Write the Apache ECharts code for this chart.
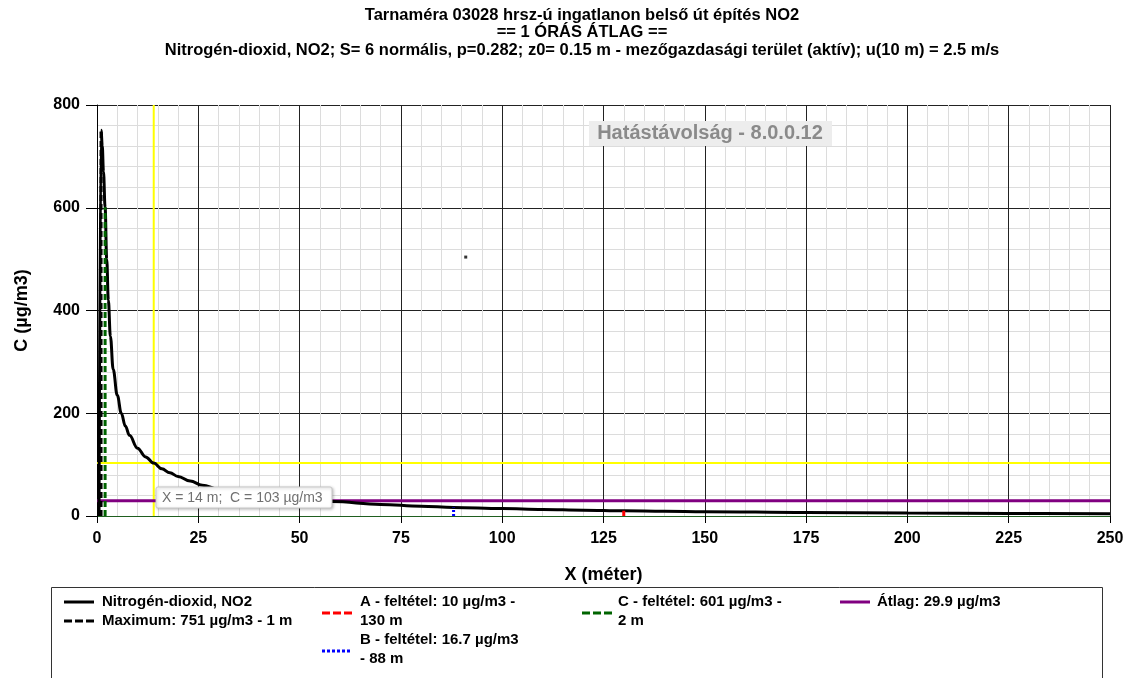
<!DOCTYPE html>
<html>
<head>
<meta charset="utf-8">
<script src="https://cdn.jsdelivr.net/npm/echarts@6/dist/echarts.min.js"></script>
<style>html,body{margin:0;padding:0;background:#fff}#c{width:1128px;height:678px}</style>
</head>
<body>
<div id="c"></div>
<script>
// ---- data ----
const titleLines = [
  'Tarnaméra 03028 hrsz-ú ingatlanon belső út építés NO2',
  '== 1 ÓRÁS ÁTLAG ==',
  'Nitrogén-dioxid, NO2; S= 6 normális, p=0.282; z0= 0.15 m - mezőgazdasági terület (aktív); u(10 m) = 2.5 m/s'
];
const xTicks = [0, 25, 50, 75, 100, 125, 150, 175, 200, 225, 250];
const yTicks = [0, 200, 400, 600, 800];
const curveX = [0.5, 1, 1.3, 1.6, 2, 2.4, 2.8, 3.3, 4, 5, 6, 7, 8, 10, 12, 14, 16, 18, 20, 23, 26, 30, 35, 40, 50, 58, 70, 80, 88, 100, 110, 120, 130, 140, 150, 175, 200, 225, 250];
const curveC = [0, 751, 720, 670, 601, 500, 420, 350, 285, 235, 200, 175, 157, 132, 115, 103, 92, 84, 77, 68, 60, 52, 45, 39, 32, 28, 22.5, 19, 16.7, 14.5, 12.8, 11.3, 10, 9.2, 8.4, 6.8, 5.7, 4.9, 4.2];
const maxPoint = [1, 751];
const condA = [130, 10];
const condB = [88, 16.7];
const condC = [2, 601];
const avgC = 29.9;
const cursor = [14, 103];
const strayDot = [91, 504];
const legendItems = [
  'Nitrogén-dioxid, NO2',
  'Maximum: 751 µg/m3 - 1 m',
  'A - feltétel: 10 µg/m3 -\n130 m',
  'B - feltétel: 16.7 µg/m3\n- 88 m',
  'C - feltétel: 601 µg/m3 -\n2 m',
  'Átlag: 29.9 µg/m3'
];
const cursorText = 'X = 14 m;  C = 103 µg/m3';
const watermark = 'Hatástávolság - 8.0.0.12';

// ---- chart ----
const FONT = '"Liberation Sans", Arial, sans-serif';
const chart = echarts.init(document.getElementById('c'));
const xMin = xTicks[0], xMax = xTicks[xTicks.length - 1];
const yMin = yTicks[0], yMax = yTicks[yTicks.length - 1];

function seg(points, color, width, type, z) {
  return {
    type: 'line', data: points, symbol: 'none', silent: true, z: z || 2,
    lineStyle: { color: color, width: width, type: type || 'solid', cap: 'butt' },
    animation: false
  };
}

const curveData = curveX.map((x, i) => [x, curveC[i]]);

function legLine(x1, y, color, dash) {
  return { type: 'line', shape: { x1: x1, y1: y, x2: x1 + 30, y2: y },
    style: { stroke: color, lineWidth: 3, lineDash: dash || null } };
}
function legText(x, y, t) {
  return { type: 'text', x: x, y: y, style: { text: t, fill: '#000', font: 'bold 15px ' + FONT, lineHeight: 19, verticalAlign: 'top' } };
}

chart.setOption({
  animation: false,
  backgroundColor: '#fff',
  title: {
    text: titleLines.join('\n'),
    left: 577, top: 4.5, padding: [2, 5], textAlign: 'center',
    textStyle: { fontFamily: FONT, fontWeight: 'bold', fontSize: 16.5, lineHeight: 17.5, color: '#000' }
  },
  grid: { left: 97, right: 18, top: 105, bottom: 162 },
  xAxis: {
    type: 'value', min: xMin, max: xMax, interval: xTicks[1] - xTicks[0],
    name: 'X (méter)', nameLocation: 'middle', nameGap: 50,
    nameTextStyle: { fontFamily: FONT, fontWeight: 'bold', fontSize: 18, color: '#000' },
    axisLine: { show: true, onZero: false, lineStyle: { color: '#1f5f1f', width: 1 } },
    axisTick: { show: true, length: 7, lineStyle: { color: '#000' } },
    axisLabel: { fontFamily: FONT, fontWeight: 'bold', fontSize: 16, color: '#000', margin: 15 },
    splitLine: { show: true, lineStyle: { color: '#222', width: 1 } },
    minorTick: { show: false, splitNumber: 5 },
    minorSplitLine: { show: true, lineStyle: { color: '#dcdcdc', width: 1 } }
  },
  yAxis: {
    type: 'value', min: yMin, max: yMax, interval: yTicks[1] - yTicks[0],
    name: 'C (µg/m3)', nameLocation: 'middle', nameGap: 66, nameRotate: 90,
    nameTextStyle: { fontFamily: FONT, fontWeight: 'bold', fontSize: 18, color: '#000' },
    axisLine: { show: true, lineStyle: { color: '#000', width: 1 } },
    axisTick: { show: true, length: 11, lineStyle: { color: '#000' } },
    axisLabel: { fontFamily: FONT, fontWeight: 'bold', fontSize: 16, color: '#000', margin: 17 },
    splitLine: { show: true, lineStyle: { color: '#222', width: 1 } },
    minorTick: { show: false, splitNumber: 5 },
    minorSplitLine: { show: true, lineStyle: { color: '#dcdcdc', width: 1 } }
  },
  series: [
    seg([[cursor[0], yMin], [cursor[0], yMax]], '#ffff00', 2, 'solid', 1),
    seg([[xMin, cursor[1]], [xMax, cursor[1]]], '#ffff00', 2, 'solid', 1),
    seg([[xMin, avgC], [xMax, avgC]], '#800080', 3, 'solid', 2),
    Object.assign(seg(curveData, '#000', 3, 'solid', 3), { smooth: 0.4, smoothMonotone: 'x' }),
    seg([[maxPoint[0], 0], maxPoint], '#000', 3, [6, 3], 4),
    seg([[condC[0], 0], condC], '#006400', 3, [6, 3], 4),
    seg([[condA[0], 0], condA], '#ff0000', 3, [6, 3], 4),
    seg([[condB[0], 0], condB], '#0000ff', 3, [2, 2], 4),
    { type: 'scatter', data: [strayDot], symbol: 'rect', symbolSize: 3, itemStyle: { color: '#000' }, silent: true, z: 5 }
  ],
  graphic: [
    // watermark
    { type: 'rect', shape: { x: 589, y: 121, width: 243, height: 25 }, style: { fill: '#ededed' }, z: 10 },
    { type: 'text', x: 710, y: 133.5, z: 11, style: { text: watermark, fill: '#8a8a8a', font: 'bold 20px ' + FONT, align: 'center', verticalAlign: 'middle' } },
    // cursor label
    { type: 'rect', shape: { x: 156, y: 487, width: 176, height: 21, r: 2 }, style: { fill: '#fff', stroke: '#c8c8c8', lineWidth: 1, shadowBlur: 3, shadowColor: 'rgba(0,0,0,0.25)', shadowOffsetX: 1, shadowOffsetY: 1 }, z: 10 },
    { type: 'text', x: 162, y: 498, z: 11, style: { text: cursorText, fill: '#707070', font: '14px ' + FONT, verticalAlign: 'middle' } },
    // legend box
    { type: 'rect', shape: { x: 51.5, y: 587.5, width: 1051, height: 100 }, style: { fill: 'none', stroke: '#333', lineWidth: 1 }, z: 10 },
    legLine(64, 602, '#000'),
    legText(102, 592.5, legendItems[0]),
    legLine(64, 621, '#000', [8, 3]),
    legText(102, 611.5, legendItems[1]),
    legLine(322, 613, '#ff0000', [8, 3]),
    legText(360, 592.5, legendItems[2]),
    legLine(322, 651, '#0000ff', [3, 2]),
    legText(360, 630.5, legendItems[3]),
    legLine(582, 613, '#006400', [8, 3]),
    legText(618, 592.5, legendItems[4]),
    legLine(840, 602, '#800080'),
    legText(877, 592.5, legendItems[5])
  ]
});
</script>
</body>
</html>
